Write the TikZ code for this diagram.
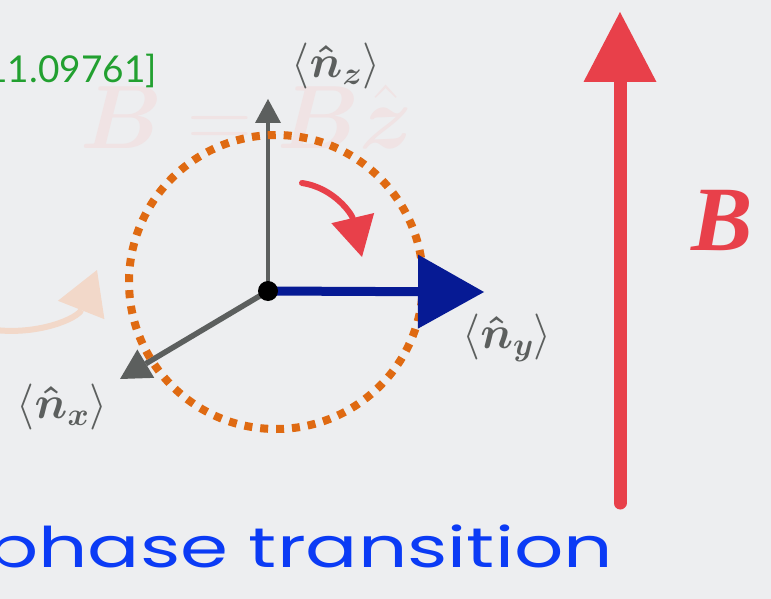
\RequirePackage{fix-cm}
\documentclass[tikz,border=0pt]{standalone}
\usepackage{amsmath}
\usepackage{fontspec}
\newfontfamily\arxivfont{Lato}
\newfontfamily\handfont{Poppins}[FakeStretch=1.38]
\newfontfamily\fieldfont{Liberation Serif}
\usetikzlibrary{arrows.meta}

\definecolor{paper}{HTML}{EDEEF0}
\definecolor{ghost}{HTML}{F0E3E4}
\definecolor{refgreen}{HTML}{22A030}
\definecolor{orbitorange}{HTML}{DF6A12}
\definecolor{axisgray}{HTML}{5C5F5E}
\definecolor{spinblue}{HTML}{061A94}
\definecolor{fieldred}{HTML}{E8404A}
\definecolor{hintpeach}{HTML}{F2D8C9}
\definecolor{handblue}{HTML}{0B3BF5}

\tikzset{
    plain text/.style={inner sep=0pt, anchor=base west},
    vec label/.style={inner sep=0pt, text=axisgray, font=\fontsize{46}{50}\selectfont},
    orbit/.style={draw=orbitorange, line width=8pt, dash pattern=on 8pt off 7.92pt},
    axis/.style={draw=axisgray, fill=axisgray},
}

\begin{document}
\begin{tikzpicture}[x=1pt, y=-1pt]
    \clip (0,0) rectangle (771,599);
    \fill[paper] (0,0) rectangle (771,599);

    % faint field equation behind everything
    \node[plain text, text=ghost, font=\fontsize{90}{90}\selectfont] (eq) at (80,149)
        {$\boldsymbol{B}=\boldsymbol{B}\hat{\boldsymbol{z}}$};

    % reference tag, cut at the left edge
    \node[plain text, anchor=base east, text=refgreen, font=\arxivfont\fontsize{37}{37}\selectfont] (ref) at (157,83) {11.09761]};

    % hint arrow coming in from the left
    \coordinate (hintstart) at (-5,330);
    \coordinate (hinttip) at (97,270);
    \draw[hintpeach, line width=6pt, -{Triangle[length=43pt, width=50pt, line width=0pt]}]
        (hintstart) .. controls (40,335) and (78,318) .. (hinttip);

    % axes
    \coordinate (O) at (268,291);
    \coordinate (ztip) at (268,99);
    \coordinate (xtip) at (120,379);
    \coordinate (ytip) at (484,292);
    \draw[axis, line width=4pt, -{Triangle[length=24pt, width=26pt, line width=0pt]}] (O) -- (ztip);
    \draw[axis, line width=5.5pt, -{Triangle[length=30pt, width=33pt, line width=0pt]}] (O) -- (xtip);

    % dotted orbit
    \draw[orbit] (276,282) circle[radius=147];

    % spin along y
    \draw[spinblue, line width=9pt, -{Triangle[length=66pt, width=74pt, line width=0pt]}] (O) -- (ytip);
    \fill[black] (O) circle[radius=10];

    % rotation sense
    \coordinate (rotstart) at (302,183);
    \coordinate (rottip) at (362,257);
    \draw[fieldred, line width=6pt, line cap=round, -{Triangle[length=40pt, width=44pt, line width=0pt]}]
        (rotstart) .. controls (335,188) and (352,215) .. (rottip);

    % axis labels
    \node[vec label] (nz) at (336,66) {$\langle\boldsymbol{\hat{n}_z}\rangle$};
    \node[vec label] (ny) at (507,338) {$\langle\boldsymbol{\hat{n}_y}\rangle$};
    \node[vec label] (nx) at (62,407) {$\langle\boldsymbol{\hat{n}_x}\rangle$};

    % magnetic field
    \coordinate (Bfoot) at (620,503);
    \coordinate (Btip) at (620,12);
    \draw[fieldred, line width=13pt, line cap=round, -{Triangle[length=70pt, width=73pt, line width=0pt]}] (Bfoot) -- (Btip);
    \node[plain text, text=fieldred, font=\fieldfont\bfseries\itshape\fontsize{92}{92}\selectfont] (Blabel) at (691,250) {B};

    % caption, cut at the left edge
    \node[plain text, text=handblue, font=\handfont\fontsize{56}{56}\selectfont] (phase) at (-14,567) {phase transition};
\end{tikzpicture}
\end{document}
